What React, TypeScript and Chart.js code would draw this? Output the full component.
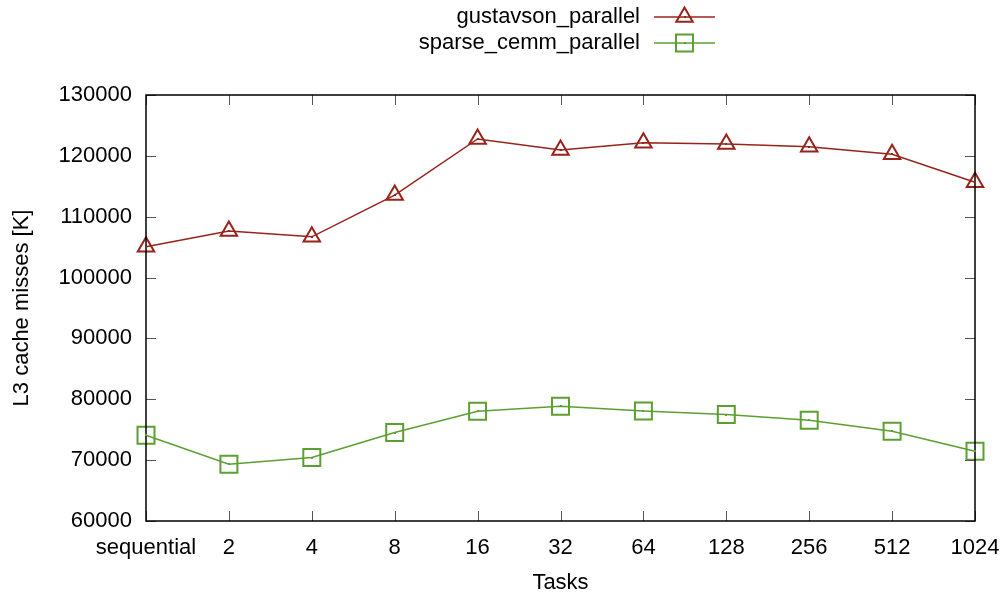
import React, { useEffect, useRef } from "react";
import { Chart, registerables } from "chart.js";

Chart.register(...registerables);

const categories = ["sequential", "2", "4", "8", "16", "32", "64", "128", "256", "512", "1024"];
const gustavsonParallel = [105060, 107640, 106700, 113560, 122770, 120960, 122160, 121950, 121500, 120250, 115650];
const sparseCemmParallel = [74090, 69320, 70420, 74540, 78040, 78860, 78090, 77500, 76560, 74750, 71460];
const seriesNames = ["gustavson_parallel", "sparse_cemm_parallel"];
const seriesColors = ["#98231a", "#5c9f31"];
const yMin = 60000;
const yMax = 130000;
const yStep = 10000;

const FONT = "'Liberation Sans', Arial, Helvetica, sans-serif";
const FONT_SIZE = 22;

// Inward tick marks on all four sides plus the black frame around the plot area
const framePlugin = {
  id: "frame",
  afterDatasetsDraw(chart: any) {
    const { ctx, chartArea: a, scales } = chart;
    const tl = 10;
    ctx.save();
    ctx.strokeStyle = "#555";
    ctx.lineWidth = 1;
    ctx.beginPath();
    const ys = scales.y;
    ys.ticks.forEach((_t: any, i: number) => {
      const py = Math.round(ys.getPixelForTick(i)) + 0.5;
      ctx.moveTo(a.left, py);
      ctx.lineTo(a.left + tl, py);
      ctx.moveTo(a.right, py);
      ctx.lineTo(a.right - tl, py);
    });
    const xs = scales.x;
    xs.ticks.forEach((_t: any, i: number) => {
      const px = Math.round(xs.getPixelForTick(i)) + 0.5;
      ctx.moveTo(px, a.bottom);
      ctx.lineTo(px, a.bottom - tl);
      ctx.moveTo(px, a.top);
      ctx.lineTo(px, a.top + tl);
    });
    ctx.stroke();
    ctx.strokeStyle = "#000";
    ctx.lineWidth = 1.5;
    ctx.strokeRect(a.left, a.top, a.right - a.left, a.bottom - a.top);
    // small centre dot on every data point
    chart.data.datasets.forEach((ds: any, di: number) => {
      const meta = chart.getDatasetMeta(di);
      ctx.fillStyle = ds.borderColor;
      meta.data.forEach((pt: any) => {
        ctx.fillRect(Math.round(pt.x) - 1, Math.round(pt.y) - 1, 2, 2);
      });
    });
    ctx.restore();
  },
};

function drawMarker(ctx: CanvasRenderingContext2D, style: string, x: number, y: number, r: number) {
  ctx.beginPath();
  if (style === "triangle") {
    for (let k = 0; k < 3; k++) {
      const ang = (k * 2 * Math.PI) / 3;
      const px = x + Math.sin(ang) * r;
      const py = y - Math.cos(ang) * r;
      if (k === 0) ctx.moveTo(px, py);
      else ctx.lineTo(px, py);
    }
    ctx.closePath();
  } else {
    const s = Math.SQRT1_2 * r;
    ctx.rect(x - s, y - s, 2 * s, 2 * s);
  }
  ctx.stroke();
}

// Legend in the gnuplot layout: right-aligned label followed by a line sample with marker
const keyPlugin = {
  id: "gnuKey",
  afterDraw(chart: any) {
    const { ctx } = chart;
    const textRight = 640;
    const lineStart = 654;
    const lineEnd = 715;
    ctx.save();
    chart.data.datasets.forEach((ds: any, i: number) => {
      const y = 17 + i * 26;
      ctx.fillStyle = "#000";
      ctx.font = `${FONT_SIZE}px ${FONT}`;
      ctx.textAlign = "right";
      ctx.textBaseline = "middle";
      ctx.fillText(ds.label, textRight, y);
      ctx.strokeStyle = ds.borderColor;
      ctx.lineWidth = 1.5;
      ctx.beginPath();
      ctx.moveTo(lineStart, y);
      ctx.lineTo(lineEnd, y);
      ctx.stroke();
      ctx.lineWidth = 2;
      const cx = (lineStart + lineEnd) / 2;
      drawMarker(ctx, ds.pointStyle, cx, y, ds.pointRadius);
      ctx.fillStyle = ds.borderColor;
      ctx.fillRect(Math.round(cx) - 1, y - 1, 2, 2);
    });
    ctx.restore();
  },
};

export default function App() {
  const canvasRef = useRef<HTMLCanvasElement | null>(null);

  useEffect(() => {
    if (!canvasRef.current) return;
    const chart = new Chart(canvasRef.current, {
      type: "line",
      data: {
        labels: categories,
        datasets: [
          {
            label: seriesNames[0],
            data: gustavsonParallel,
            borderColor: seriesColors[0],
            backgroundColor: "rgba(0,0,0,0)",
            borderWidth: 1.5,
            pointStyle: "triangle",
            pointRadius: 9.5,
            pointBorderWidth: 2,
            pointBackgroundColor: "rgba(0,0,0,0)",
            pointBorderColor: seriesColors[0],
            tension: 0,
          },
          {
            label: seriesNames[1],
            data: sparseCemmParallel,
            borderColor: seriesColors[1],
            backgroundColor: "rgba(0,0,0,0)",
            borderWidth: 1.5,
            pointStyle: "rect",
            pointRadius: 12,
            pointBorderWidth: 2,
            pointBackgroundColor: "rgba(0,0,0,0)",
            pointBorderColor: seriesColors[1],
            tension: 0,
          },
        ],
      },
      options: {
        responsive: false,
        animation: false,
        layout: { padding: { left: 0, top: 95, right: 28, bottom: 0 } },
        plugins: {
          legend: { display: false },
          tooltip: { enabled: false },
        },
        scales: {
          x: {
            type: "category",
            offset: false,
            grid: { display: false, drawTicks: false },
            border: { display: false },
            ticks: {
              color: "#000",
              font: { family: FONT, size: FONT_SIZE },
              padding: 14,
              maxRotation: 0,
              autoSkip: false,
            },
            title: {
              display: true,
              text: "Tasks",
              color: "#000",
              font: { family: FONT, size: FONT_SIZE },
              padding: { top: 0, bottom: 3 },
            },
            afterFit(scale: any) {
              scale.height = 78;
              scale.paddingLeft = 0;
              scale.paddingRight = 0;
            },
          },
          y: {
            min: yMin,
            max: yMax,
            grid: { display: false, drawTicks: false },
            border: { display: false },
            ticks: {
              stepSize: yStep,
              color: "#000",
              font: { family: FONT, size: FONT_SIZE },
              padding: 14,
              callback: (v: any) => String(v),
            },
            title: {
              display: true,
              text: "L3 cache misses [K]",
              color: "#000",
              font: { family: FONT, size: FONT_SIZE },
              padding: { top: 9, bottom: 0 },
            },
            afterFit(scale: any) {
              scale.width = 146;
              scale.paddingTop = 0;
              scale.paddingBottom = 0;
            },
          },
        },
      },
      plugins: [framePlugin, keyPlugin],
    });
    return () => chart.destroy();
  }, []);

  return (
    <div style={{ position: "fixed", left: 0, top: 0, width: 1003, height: 599, background: "#fff" }}>
      <canvas ref={canvasRef} width={1003} height={599} />
    </div>
  );
}
